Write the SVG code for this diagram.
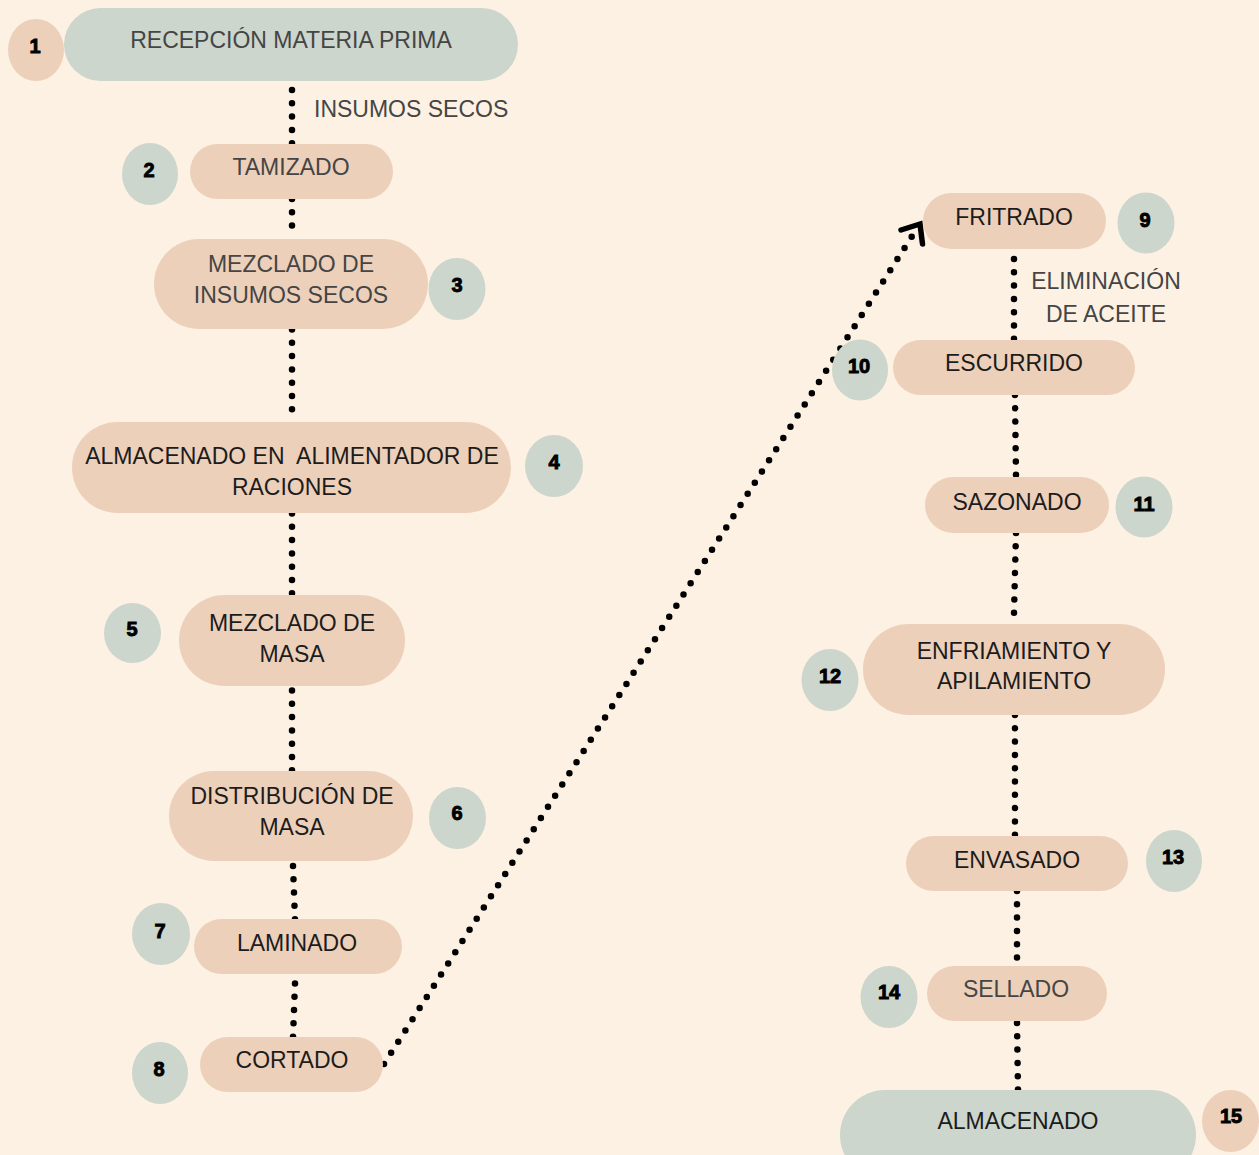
<svg xmlns="http://www.w3.org/2000/svg" width="1259" height="1155" viewBox="0 0 1259 1155">
<style>
.sage{fill:#CCD6CC}
.peach{fill:#EDD0BA}
.t{font-family:"Liberation Sans",Arial,sans-serif;font-size:23px;text-anchor:middle}
.g{fill:#454545}
.d{fill:#1c1c1c}
.num{font-family:"Liberation Sans",Arial,sans-serif;font-size:20px;font-weight:bold;text-anchor:middle;fill:#000;stroke:#000;stroke-width:0.9}
.dots{fill:none;stroke:#000;stroke-width:6.5;stroke-linecap:round;stroke-dasharray:0 13.3}
.lbl{font-family:"Liberation Sans",Arial,sans-serif;font-size:23px;fill:#454545}
</style>
<rect x="0" y="0" width="1259" height="1155" fill="#FDF1E3"/>
<g id="connectors">
<line class="dots" x1="292" y1="90" x2="292" y2="144"/>
<line class="dots" x1="292" y1="199" x2="292" y2="226.5"/>
<line class="dots" x1="292" y1="329.5" x2="292" y2="410.3"/>
<line class="dots" x1="292" y1="513.5" x2="292" y2="594.3"/>
<line class="dots" x1="292" y1="690.5" x2="292" y2="771.3"/>
<line class="dots" x1="293" y1="866" x2="295" y2="920"/>
<line class="dots" x1="295" y1="983.5" x2="293" y2="1037.5"/>
<line class="dots" x1="384" y1="1064" x2="912.2" y2="235.9" style="stroke-dasharray:0 13.26"/>
<path d="M901,230 L920,224 L922.5,244" fill="none" stroke="#000" stroke-width="5.5" stroke-linecap="round" stroke-linejoin="miter"/>
<line class="dots" x1="1014" y1="259" x2="1014" y2="339.8"/>
<line class="dots" x1="1015" y1="395" x2="1016" y2="475.8"/>
<line class="dots" x1="1016" y1="533" x2="1014" y2="613.8"/>
<line class="dots" x1="1015" y1="715" x2="1015" y2="835.7"/>
<line class="dots" x1="1017" y1="891" x2="1017" y2="958.5"/>
<line class="dots" x1="1017" y1="1023" x2="1018" y2="1090.5"/>
<text class="lbl" x="314" y="117">INSUMOS SECOS</text>
<text class="lbl" x="1106" y="289" text-anchor="middle">ELIMINACIÓN</text>
<text class="lbl" x="1106" y="322" text-anchor="middle">DE ACEITE</text>
</g>
<g id="step-1">
<rect class="sage" x="64" y="8" width="454" height="73" rx="36.5"/>
<text class="t g" x="291" y="48">RECEPCIÓN MATERIA PRIMA</text>
<ellipse class="peach" cx="36" cy="50" rx="28" ry="31"/>
<text class="num" x="35" y="53">1</text>
</g>
<g id="step-2">
<rect class="peach" x="190" y="144" width="203" height="55" rx="27.5"/>
<text class="t g" x="291" y="175">TAMIZADO</text>
<ellipse class="sage" cx="150" cy="174" rx="28" ry="31"/>
<text class="num" x="149" y="177">2</text>
</g>
<g id="step-3">
<rect class="peach" x="154" y="239" width="274" height="90" rx="45"/>
<text class="t g" x="291" y="272">MEZCLADO DE</text>
<text class="t g" x="291" y="303">INSUMOS SECOS</text>
<ellipse class="sage" cx="457" cy="289" rx="28.5" ry="31"/>
<text class="num" x="457" y="292">3</text>
</g>
<g id="step-4">
<rect class="peach" x="72" y="422" width="439" height="91" rx="45.5"/>
<text class="t d" x="292" y="464" xml:space="preserve">ALMACENADO EN  ALIMENTADOR DE</text>
<text class="t d" x="292" y="495">RACIONES</text>
<ellipse class="sage" cx="554" cy="466" rx="29" ry="31"/>
<text class="num" x="554" y="469">4</text>
</g>
<g id="step-5">
<rect class="peach" x="179" y="595" width="226" height="91" rx="45.5"/>
<text class="t d" x="292" y="631">MEZCLADO DE</text>
<text class="t d" x="292" y="662">MASA</text>
<ellipse class="sage" cx="132.5" cy="633" rx="28.5" ry="30"/>
<text class="num" x="132" y="636">5</text>
</g>
<g id="step-6">
<rect class="peach" x="169" y="771" width="244" height="90" rx="45"/>
<text class="t d" x="292" y="804">DISTRIBUCIÓN DE</text>
<text class="t d" x="292" y="835">MASA</text>
<ellipse class="sage" cx="457.5" cy="818" rx="28.5" ry="31"/>
<text class="num" x="457" y="820">6</text>
</g>
<g id="step-7">
<rect class="peach" x="194" y="919" width="208" height="55" rx="27.5"/>
<text class="t d" x="297" y="951">LAMINADO</text>
<ellipse class="sage" cx="161" cy="934" rx="29" ry="31"/>
<text class="num" x="160" y="938">7</text>
</g>
<g id="step-8">
<rect class="peach" x="200" y="1037" width="183" height="55" rx="27.5"/>
<text class="t d" x="292" y="1068">CORTADO</text>
<ellipse class="sage" cx="160" cy="1073" rx="28" ry="31"/>
<text class="num" x="159" y="1076">8</text>
</g>
<g id="step-9">
<rect class="peach" x="923" y="193" width="183" height="56" rx="28"/>
<text class="t d" x="1014" y="225">FRITRADO</text>
<ellipse class="sage" cx="1146" cy="223" rx="28.5" ry="30.5"/>
<text class="num" x="1145" y="227">9</text>
</g>
<g id="step-10">
<rect class="peach" x="893" y="340" width="242" height="55" rx="27.5"/>
<text class="t d" x="1014" y="371">ESCURRIDO</text>
<ellipse class="sage" cx="860" cy="370" rx="28" ry="30.5"/>
<text class="num" x="859" y="373">10</text>
</g>
<g id="step-11">
<rect class="peach" x="925" y="477" width="184" height="56" rx="28"/>
<text class="t d" x="1017" y="510">SAZONADO</text>
<ellipse class="sage" cx="1144" cy="507" rx="28.5" ry="30.5"/>
<text class="num" x="1144" y="511">11</text>
</g>
<g id="step-12">
<rect class="peach" x="863" y="624" width="302" height="91" rx="45.5"/>
<text class="t d" x="1014" y="659">ENFRIAMIENTO Y</text>
<text class="t d" x="1014" y="689">APILAMIENTO</text>
<ellipse class="sage" cx="830" cy="680" rx="28.5" ry="31"/>
<text class="num" x="830" y="683">12</text>
</g>
<g id="step-13">
<rect class="peach" x="906" y="836" width="222" height="55" rx="27.5"/>
<text class="t d" x="1017" y="868">ENVASADO</text>
<ellipse class="sage" cx="1174" cy="861" rx="28" ry="31"/>
<text class="num" x="1173" y="864">13</text>
</g>
<g id="step-14">
<rect class="peach" x="927" y="966" width="180" height="55" rx="27.5"/>
<text class="t g" x="1016" y="997">SELLADO</text>
<ellipse class="sage" cx="889" cy="997" rx="28.5" ry="31"/>
<text class="num" x="889" y="999">14</text>
</g>
<g id="step-15">
<rect class="sage" x="840" y="1090" width="356" height="90" rx="45"/>
<text class="t d" x="1018" y="1129">ALMACENADO</text>
<ellipse class="peach" cx="1230.5" cy="1121" rx="28.5" ry="31"/>
<text class="num" x="1231" y="1123">15</text>
</g>
</svg>
